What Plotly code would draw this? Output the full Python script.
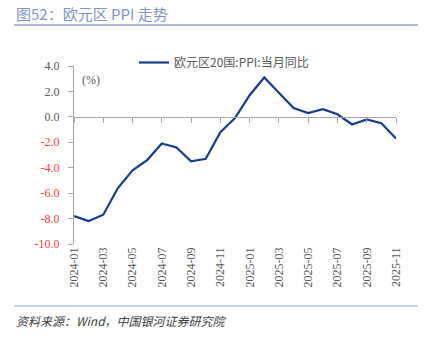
import plotly.graph_objects as go

months = ["2024-01","2024-02","2024-03","2024-04","2024-05","2024-06","2024-07","2024-08",
          "2024-09","2024-10","2024-11","2024-12","2025-01","2025-02","2025-03","2025-04",
          "2025-05","2025-06","2025-07","2025-08","2025-09","2025-10","2025-11"]
ppi_yoy = [-7.8,-8.2,-7.7,-5.6,-4.2,-3.4,-2.1,-2.4,-3.5,-3.3,-1.2,-0.1,1.7,3.1,1.9,0.7,
           0.3,0.6,0.2,-0.6,-0.2,-0.5,-1.7]
series_name = "欧元区20国:PPI:当月同比"
y_ticks = [4.0,2.0,0.0,-2.0,-4.0,-6.0,-8.0,-10.0]

W, H = 442, 337
L, R, T, B = 74, 46, 66, 93
PW, PH = W - L - R, H - T - B
LATIN = "'Liberation Serif', 'Times New Roman', serif"
CJK = "'Noto Sans CJK SC', 'Liberation Serif', serif"
GREY = "#595959"
RED = "#FF3B3B"
LINE = "#163C8C"

def px(x):
    return (x - L) / PW

def py(y):
    return (H - B - y) / PH

x_idx = list(range(len(months)))
tick_idx = x_idx[::2]
tick_lbl = months[::2]

fig = go.Figure()
fig.add_trace(go.Scatter(x=x_idx, y=ppi_yoy, mode="lines", name=series_name,
                         line=dict(color=LINE, width=2.2)))
fig.add_trace(go.Scatter(x=x_idx, y=ppi_yoy, mode="lines", xaxis="x2", showlegend=False,
                         line=dict(color="rgba(0,0,0,0)", width=0), hoverinfo="skip"))

ytext = [f"<span style='color:{RED if v < 0 else GREY}'>{v:.1f}\u00a0\u00a0</span>" for v in y_ticks]

ymin, ymax = -10, 4
fig.update_layout(
    width=W, height=H, autosize=False,
    margin=dict(l=L, r=R, t=T, b=B),
    paper_bgcolor="white", plot_bgcolor="white",
    font=dict(family=LATIN, size=12, color=GREY),
    showlegend=True,
    legend=dict(orientation="h", x=px(134), xanchor="left", y=py(48), yanchor="top",
                font=dict(family=CJK, size=12, color=GREY),
                bgcolor="rgba(0,0,0,0)"),
    xaxis=dict(range=[0, len(months)-1], tickmode="array", tickvals=tick_idx, ticktext=tick_lbl,
               tickangle=-90, showline=False, ticks="", showgrid=False, zeroline=False,
               tickfont=dict(family=LATIN, size=12, color=GREY)),
    xaxis2=dict(range=[0, len(months)-1], overlaying="x", anchor="free",
                position=(0-ymin)/(ymax-ymin), tickmode="array", tickvals=tick_idx,
                showticklabels=False, showline=True, linecolor="#A6A6A6", linewidth=1.3,
                ticks="outside", ticklen=5, tickcolor="#A6A6A6", tickwidth=1.2,
                showgrid=False, zeroline=False, side="bottom"),
    yaxis=dict(range=[ymin, ymax], tickmode="array", tickvals=y_ticks, ticktext=ytext,
               showline=True, linecolor="#A6A6A6", linewidth=1.3, ticks="outside",
               ticklen=5, tickcolor="#A6A6A6", tickwidth=1.2, showgrid=False, zeroline=False,
               tickfont=dict(family=LATIN, size=12, color=GREY)),
    shapes=[
        dict(type="line", xref="paper", yref="paper", x0=px(14), x1=px(418),
             y0=py(25), y1=py(25), line=dict(color="#8EA2CE", width=1.5)),
        dict(type="line", xref="paper", yref="paper", x0=px(14), x1=px(418),
             y0=py(306), y1=py(306), line=dict(color="#8EA2CE", width=1.2)),
    ],
    annotations=[
        dict(text="图52：欧元区 PPI 走势", xref="paper", yref="paper",
             x=px(14), y=py(14), xanchor="left", yanchor="middle", showarrow=False,
             font=dict(family=CJK, size=15, color="#7F95C6")),
        dict(text="(%)", xref="paper", yref="paper", x=px(80), y=py(80),
             xanchor="left", yanchor="middle", showarrow=False,
             font=dict(family=LATIN, size=12, color=GREY)),
        dict(text="<i>资料来源：Wind，中国银河证券研究院</i>", xref="paper", yref="paper",
             x=px(14), y=py(320), xanchor="left", yanchor="middle", showarrow=False,
             font=dict(family=CJK, size=12, color="#404040")),
    ],
)

fig.write_html("out.html")
